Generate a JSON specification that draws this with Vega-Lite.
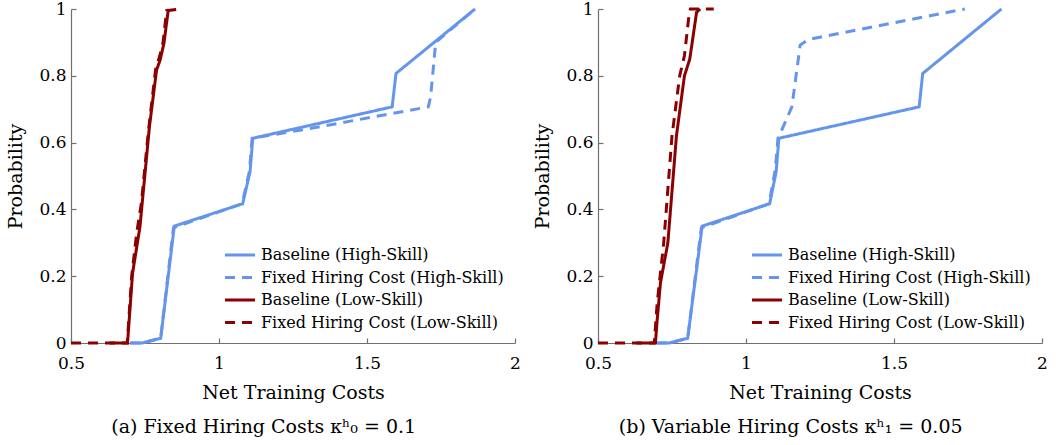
{
  "$schema": "https://vega.github.io/schema/vega-lite/v6.json",
  "padding": {"left": 6, "top": 0, "right": 0, "bottom": 0},
  "background": "white",
  "config": {
    "font": "DejaVu Serif",
    "view": {"stroke": null},
    "concat": {"spacing": 12},
    "axis": {
      "grid": false,
      "labelFlush": false,
      "domainColor": "#707070",
      "domainWidth": 1.2,
      "tickColor": "#707070",
      "tickWidth": 1.2,
      "tickSize": -5,
      "labelFont": "DejaVu Serif",
      "labelFontSize": 17,
      "labelColor": "black",
      "titleFont": "DejaVu Serif",
      "titleFontSize": 19,
      "titleFontWeight": "normal",
      "titleColor": "black"
    },
    "axisX": {"labelPadding": 17, "titlePadding": 12},
    "axisY": {"labelPadding": 10, "titlePadding": 13},
    "legend": {
      "orient": "none",
      "legendX": 160,
      "legendY": 237,
      "title": null,
      "symbolType": "M-2,0H2",
      "symbolSize": 225,
      "symbolStrokeWidth": 3,
      "labelOffset": 12,
      "labelLimit": 0,
      "labelFont": "DejaVu Serif",
      "labelFontSize": 16,
      "labelColor": "black",
      "rowPadding": 5.5,
      "padding": 0
    },
    "title": {"font": "DejaVu Serif", "fontSize": 19, "fontWeight": "normal", "color": "black"}
  },
  "data": {
    "values": [
      {"panel": "a", "series": "Baseline (High-Skill)", "cost": 0.70, "prob": 0.0},
      {"panel": "a", "series": "Baseline (High-Skill)", "cost": 0.74, "prob": 0.0},
      {"panel": "a", "series": "Baseline (High-Skill)", "cost": 0.803, "prob": 0.014},
      {"panel": "a", "series": "Baseline (High-Skill)", "cost": 0.849, "prob": 0.350},
      {"panel": "a", "series": "Baseline (High-Skill)", "cost": 1.080, "prob": 0.417},
      {"panel": "a", "series": "Baseline (High-Skill)", "cost": 1.105, "prob": 0.513},
      {"panel": "a", "series": "Baseline (High-Skill)", "cost": 1.114, "prob": 0.613},
      {"panel": "a", "series": "Baseline (High-Skill)", "cost": 1.585, "prob": 0.707},
      {"panel": "a", "series": "Baseline (High-Skill)", "cost": 1.598, "prob": 0.807},
      {"panel": "a", "series": "Baseline (High-Skill)", "cost": 1.865, "prob": 1.0},

      {"panel": "a", "series": "Fixed Hiring Cost (High-Skill)", "cost": 0.70, "prob": 0.0},
      {"panel": "a", "series": "Fixed Hiring Cost (High-Skill)", "cost": 0.74, "prob": 0.0},
      {"panel": "a", "series": "Fixed Hiring Cost (High-Skill)", "cost": 0.803, "prob": 0.014},
      {"panel": "a", "series": "Fixed Hiring Cost (High-Skill)", "cost": 0.846, "prob": 0.345},
      {"panel": "a", "series": "Fixed Hiring Cost (High-Skill)", "cost": 1.078, "prob": 0.417},
      {"panel": "a", "series": "Fixed Hiring Cost (High-Skill)", "cost": 1.103, "prob": 0.515},
      {"panel": "a", "series": "Fixed Hiring Cost (High-Skill)", "cost": 1.112, "prob": 0.613},
      {"panel": "a", "series": "Fixed Hiring Cost (High-Skill)", "cost": 1.30, "prob": 0.641},
      {"panel": "a", "series": "Fixed Hiring Cost (High-Skill)", "cost": 1.707, "prob": 0.707},
      {"panel": "a", "series": "Fixed Hiring Cost (High-Skill)", "cost": 1.715, "prob": 0.737},
      {"panel": "a", "series": "Fixed Hiring Cost (High-Skill)", "cost": 1.732, "prob": 0.90},
      {"panel": "a", "series": "Fixed Hiring Cost (High-Skill)", "cost": 1.865, "prob": 1.0},

      {"panel": "a", "series": "Baseline (Low-Skill)", "cost": 0.63, "prob": 0.0},
      {"panel": "a", "series": "Baseline (Low-Skill)", "cost": 0.691, "prob": 0.0},
      {"panel": "a", "series": "Baseline (Low-Skill)", "cost": 0.708, "prob": 0.209},
      {"panel": "a", "series": "Baseline (Low-Skill)", "cost": 0.733, "prob": 0.348},
      {"panel": "a", "series": "Baseline (Low-Skill)", "cost": 0.765, "prob": 0.648},
      {"panel": "a", "series": "Baseline (Low-Skill)", "cost": 0.789, "prob": 0.817},
      {"panel": "a", "series": "Baseline (Low-Skill)", "cost": 0.801, "prob": 0.847},
      {"panel": "a", "series": "Baseline (Low-Skill)", "cost": 0.814, "prob": 0.897},
      {"panel": "a", "series": "Baseline (Low-Skill)", "cost": 0.829, "prob": 1.0},

      {"panel": "a", "series": "Fixed Hiring Cost (Low-Skill)", "cost": 0.5, "prob": 0.0},
      {"panel": "a", "series": "Fixed Hiring Cost (Low-Skill)", "cost": 0.69, "prob": 0.0},
      {"panel": "a", "series": "Fixed Hiring Cost (Low-Skill)", "cost": 0.705, "prob": 0.20},
      {"panel": "a", "series": "Fixed Hiring Cost (Low-Skill)", "cost": 0.722, "prob": 0.33},
      {"panel": "a", "series": "Fixed Hiring Cost (Low-Skill)", "cost": 0.738, "prob": 0.42},
      {"panel": "a", "series": "Fixed Hiring Cost (Low-Skill)", "cost": 0.761, "prob": 0.63},
      {"panel": "a", "series": "Fixed Hiring Cost (Low-Skill)", "cost": 0.786, "prob": 0.82},
      {"panel": "a", "series": "Fixed Hiring Cost (Low-Skill)", "cost": 0.800, "prob": 0.86},
      {"panel": "a", "series": "Fixed Hiring Cost (Low-Skill)", "cost": 0.811, "prob": 0.90},
      {"panel": "a", "series": "Fixed Hiring Cost (Low-Skill)", "cost": 0.823, "prob": 0.995},
      {"panel": "a", "series": "Fixed Hiring Cost (Low-Skill)", "cost": 0.868, "prob": 1.0},

      {"panel": "b", "series": "Baseline (High-Skill)", "cost": 0.70, "prob": 0.0},
      {"panel": "b", "series": "Baseline (High-Skill)", "cost": 0.74, "prob": 0.0},
      {"panel": "b", "series": "Baseline (High-Skill)", "cost": 0.803, "prob": 0.014},
      {"panel": "b", "series": "Baseline (High-Skill)", "cost": 0.852, "prob": 0.350},
      {"panel": "b", "series": "Baseline (High-Skill)", "cost": 1.080, "prob": 0.417},
      {"panel": "b", "series": "Baseline (High-Skill)", "cost": 1.102, "prob": 0.513},
      {"panel": "b", "series": "Baseline (High-Skill)", "cost": 1.111, "prob": 0.613},
      {"panel": "b", "series": "Baseline (High-Skill)", "cost": 1.585, "prob": 0.707},
      {"panel": "b", "series": "Baseline (High-Skill)", "cost": 1.597, "prob": 0.807},
      {"panel": "b", "series": "Baseline (High-Skill)", "cost": 1.863, "prob": 1.0},

      {"panel": "b", "series": "Fixed Hiring Cost (High-Skill)", "cost": 0.70, "prob": 0.0},
      {"panel": "b", "series": "Fixed Hiring Cost (High-Skill)", "cost": 0.74, "prob": 0.0},
      {"panel": "b", "series": "Fixed Hiring Cost (High-Skill)", "cost": 0.803, "prob": 0.014},
      {"panel": "b", "series": "Fixed Hiring Cost (High-Skill)", "cost": 0.849, "prob": 0.345},
      {"panel": "b", "series": "Fixed Hiring Cost (High-Skill)", "cost": 1.078, "prob": 0.417},
      {"panel": "b", "series": "Fixed Hiring Cost (High-Skill)", "cost": 1.099, "prob": 0.52},
      {"panel": "b", "series": "Fixed Hiring Cost (High-Skill)", "cost": 1.108, "prob": 0.613},
      {"panel": "b", "series": "Fixed Hiring Cost (High-Skill)", "cost": 1.121, "prob": 0.638},
      {"panel": "b", "series": "Fixed Hiring Cost (High-Skill)", "cost": 1.155, "prob": 0.707},
      {"panel": "b", "series": "Fixed Hiring Cost (High-Skill)", "cost": 1.183, "prob": 0.892},
      {"panel": "b", "series": "Fixed Hiring Cost (High-Skill)", "cost": 1.211, "prob": 0.909},
      {"panel": "b", "series": "Fixed Hiring Cost (High-Skill)", "cost": 1.739, "prob": 1.0},

      {"panel": "b", "series": "Baseline (Low-Skill)", "cost": 0.63, "prob": 0.0},
      {"panel": "b", "series": "Baseline (Low-Skill)", "cost": 0.694, "prob": 0.0},
      {"panel": "b", "series": "Baseline (Low-Skill)", "cost": 0.700, "prob": 0.07},
      {"panel": "b", "series": "Baseline (Low-Skill)", "cost": 0.711, "prob": 0.18},
      {"panel": "b", "series": "Baseline (Low-Skill)", "cost": 0.736, "prob": 0.30},
      {"panel": "b", "series": "Baseline (Low-Skill)", "cost": 0.765, "prob": 0.62},
      {"panel": "b", "series": "Baseline (Low-Skill)", "cost": 0.792, "prob": 0.80},
      {"panel": "b", "series": "Baseline (Low-Skill)", "cost": 0.810, "prob": 0.85},
      {"panel": "b", "series": "Baseline (Low-Skill)", "cost": 0.833, "prob": 0.99},
      {"panel": "b", "series": "Baseline (Low-Skill)", "cost": 0.845, "prob": 1.0},

      {"panel": "b", "series": "Fixed Hiring Cost (Low-Skill)", "cost": 0.5, "prob": 0.0},
      {"panel": "b", "series": "Fixed Hiring Cost (Low-Skill)", "cost": 0.69, "prob": 0.0},
      {"panel": "b", "series": "Fixed Hiring Cost (Low-Skill)", "cost": 0.700, "prob": 0.12},
      {"panel": "b", "series": "Fixed Hiring Cost (Low-Skill)", "cost": 0.722, "prob": 0.30},
      {"panel": "b", "series": "Fixed Hiring Cost (Low-Skill)", "cost": 0.750, "prob": 0.62},
      {"panel": "b", "series": "Fixed Hiring Cost (Low-Skill)", "cost": 0.776, "prob": 0.80},
      {"panel": "b", "series": "Fixed Hiring Cost (Low-Skill)", "cost": 0.792, "prob": 0.86},
      {"panel": "b", "series": "Fixed Hiring Cost (Low-Skill)", "cost": 0.806, "prob": 0.97},
      {"panel": "b", "series": "Fixed Hiring Cost (Low-Skill)", "cost": 0.812, "prob": 1.0},
      {"panel": "b", "series": "Fixed Hiring Cost (Low-Skill)", "cost": 0.891, "prob": 1.0}
    ]
  },
  "hconcat": [
    {
      "width": 444,
      "height": 334,
      "title": {"text": "(a) Fixed Hiring Costs κʰ₀ = 0.1", "orient": "bottom", "anchor": "middle", "frame": "bounds", "offset": 16},
      "transform": [{"filter": "datum.panel == 'a'"}],
      "mark": {"type": "line", "strokeWidth": 3},
      "encoding": {
        "x": {"field": "cost", "type": "quantitative", "scale": {"domain": [0.5, 2], "nice": false, "zero": false},
              "axis": {"title": "Net Training Costs", "values": [0.5, 1, 1.5, 2], "format": "~g"}},
        "y": {"field": "prob", "type": "quantitative", "scale": {"domain": [0, 1], "nice": false},
              "axis": {"title": "Probability", "values": [0, 0.2, 0.4, 0.6, 0.8, 1], "format": "~g"}},
        "color": {"field": "series", "type": "nominal",
                  "scale": {"domain": ["Baseline (High-Skill)", "Fixed Hiring Cost (High-Skill)", "Baseline (Low-Skill)", "Fixed Hiring Cost (Low-Skill)"],
                            "range": ["#6495ED", "#6495ED", "#8B0000", "#8B0000"]}},
        "strokeDash": {"field": "series", "type": "nominal",
                  "scale": {"domain": ["Baseline (High-Skill)", "Fixed Hiring Cost (High-Skill)", "Baseline (Low-Skill)", "Fixed Hiring Cost (Low-Skill)"],
                            "range": [[1, 0], [10, 7], [1, 0], [10, 7]]}}
      }
    },
    {
      "width": 444,
      "height": 334,
      "title": {"text": "(b) Variable Hiring Costs κʰ₁ = 0.05", "orient": "bottom", "anchor": "middle", "frame": "bounds", "offset": 16},
      "transform": [{"filter": "datum.panel == 'b'"}],
      "mark": {"type": "line", "strokeWidth": 3},
      "encoding": {
        "x": {"field": "cost", "type": "quantitative", "scale": {"domain": [0.5, 2], "nice": false, "zero": false},
              "axis": {"title": "Net Training Costs", "values": [0.5, 1, 1.5, 2], "format": "~g"}},
        "y": {"field": "prob", "type": "quantitative", "scale": {"domain": [0, 1], "nice": false},
              "axis": {"title": "Probability", "values": [0, 0.2, 0.4, 0.6, 0.8, 1], "format": "~g"}},
        "color": {"field": "series", "type": "nominal",
                  "scale": {"domain": ["Baseline (High-Skill)", "Fixed Hiring Cost (High-Skill)", "Baseline (Low-Skill)", "Fixed Hiring Cost (Low-Skill)"],
                            "range": ["#6495ED", "#6495ED", "#8B0000", "#8B0000"]}},
        "strokeDash": {"field": "series", "type": "nominal",
                  "scale": {"domain": ["Baseline (High-Skill)", "Fixed Hiring Cost (High-Skill)", "Baseline (Low-Skill)", "Fixed Hiring Cost (Low-Skill)"],
                            "range": [[1, 0], [10, 7], [1, 0], [10, 7]]}}
      }
    }
  ],
  "resolve": {"scale": {"color": "independent", "strokeDash": "independent"}}
}
